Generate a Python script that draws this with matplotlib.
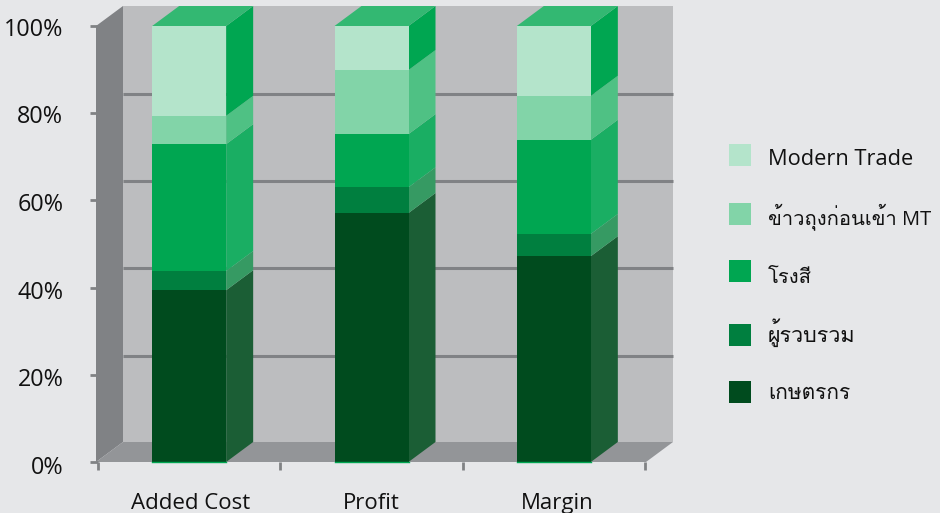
import numpy as np
import matplotlib
matplotlib.use("Agg")
import matplotlib.pyplot as plt
from matplotlib import font_manager as fm
from matplotlib.ft2font import FT2Font
from matplotlib.patches import Rectangle
from matplotlib.transforms import ScaledTranslation

categories = ["Added Cost", "Profit", "Margin"]
series_names = ["เกษตรกร", "ผู้รวบรวม", "โรงสี", "ข้าวถุงก่อนเข้า MT", "Modern Trade"]
farmer = [39.4, 57.1, 47.2]
collector = [4.4, 5.9, 5.1]
mill = [29.1, 12.2, 21.6]
bagged = [6.5, 14.7, 10.1]
modern_trade = [20.6, 10.1, 16.0]
percent_ticks = [0, 20, 40, 60, 80, 100]

front_colors = ["#004b1e", "#007f3f", "#00a651", "#82d4a8", "#b4e4cb"]
side_colors = ["#1b5e35", "#369a63", "#1aae63", "#4fc184", "#00a651"]
top_color = "#33b872"
bg = "#e6e7e9"
grey_dark = "#808285"


# busca una fuente con glifos tailandeses
def thai_fonts():
    found = []
    for f in fm.fontManager.ttflist:
        try:
            if 0x0E01 in FT2Font(f.fname).get_charmap() and f.name not in found:
                found.append(f.name)
        except Exception:
            pass
    return found


plt.rcParams["font.family"] = ["Open Sans"] + thai_fonts() + ["DejaVu Sans"]
text_color = "#111111"

W, H = 940, 513
fig = plt.figure(figsize=(W / 100, H / 100), dpi=100, facecolor=bg)
ax = fig.add_axes([98 / W, (H - 462) / H, (645 - 98) / W, 436 / H])
ax.set_xlim(0, 3)
ax.set_ylim(0, 100)
ax.patch.set_visible(False)
for s in ax.spines.values():
    s.set_visible(False)

# profundidad 3D en unidades de datos
px_x = 3 / (645 - 98)
px_y = 100 / 436
dx = 27 * px_x
dy = 20 * px_y
grid_dy = 19.2 * px_y
wall_l = -2 * px_x
wall_r = 3 + 1 * px_x
bar_w = 74 * px_x

# paredes y piso
ax.fill([wall_l + dx, wall_r + dx, wall_r + dx, wall_l + dx], [dy, dy, 100 + dy, 100 + dy],
        color="#bcbdbf", lw=0, clip_on=False, zorder=1)
ax.fill([wall_l, wall_l + dx, wall_l + dx, wall_l], [0, dy, 100 + dy, 100],
        color=grey_dark, lw=0, clip_on=False, zorder=1)
ax.fill([wall_l, wall_r, wall_r + dx, wall_l + dx], [0, 0, dy, dy],
        color="#939598", lw=0, clip_on=False, zorder=1)

# lineas de la pared
for v in percent_ticks[1:-1]:
    ax.plot([wall_l + dx, wall_r + dx], [v + grid_dy, v + grid_dy], color=grey_dark, lw=2.2,
            solid_capstyle="butt", clip_on=False, zorder=2)

# barras apiladas
values = np.array([farmer, collector, mill, bagged, modern_trade])
bottoms = np.vstack([np.zeros(3), np.cumsum(values, axis=0)[:-1]])
xs = np.arange(3) + 0.5
for i in range(len(values)):
    ax.bar(xs, values[i], bar_w, bottom=bottoms[i], color=front_colors[i], lw=0, zorder=4)
    for x, b, v in zip(xs, bottoms[i], values[i]):
        r = x + bar_w / 2
        ax.fill([r, r + dx, r + dx, r], [b, b + dy, b + v + dy, b + v],
                color=side_colors[i], lw=0, clip_on=False, zorder=3)
for x in xs:
    l, r = x - bar_w / 2, x + bar_w / 2
    ax.fill([l, r, r + dx, l + dx], [100, 100, 100 + dy, 100 + dy],
            color=top_color, lw=0, clip_on=False, zorder=3)
    ax.plot([l, r], [0, 0], color="#00a651", lw=1, clip_on=False, zorder=5)

# ejes
ax.set_yticks(percent_ticks)
ax.set_yticklabels([f"{v}%" for v in percent_ticks], fontsize=16.8, color=text_color)
ax.tick_params(axis="y", length=5.5, width=2, color=grey_dark, pad=19.5)
# etiquetas un poco mas abajo que la marca, como en el original
for lab, off in zip(ax.get_yticklabels(), [3, 2.5, 2, 1.5, 1, 1]):
    lab.set_transform(lab.get_transform() + ScaledTranslation(0, -off / 100, fig.dpi_scale_trans))
ax.set_xticks([0, 1, 2, 3])
ax.set_xticklabels([])
ax.tick_params(axis="x", which="major", length=6, width=2, color=grey_dark)
ax.set_xticks([0.508, 1.497, 2.518], minor=True)
ax.set_xticklabels(categories, minor=True, fontsize=16, color=text_color)
ax.tick_params(axis="x", which="minor", length=0, pad=22.5)

# leyenda a mano, el espaciado del original no es parejo
legend_y = [392, 335, 271, 214, 155]
baseline_y = [399, 342, 283, 224, 165]
legend_sizes = [15, 15.5, 14.5, 14.5, 15.7]
for i in range(len(series_names)):
    fig.patches.append(Rectangle((729 / W, (H - legend_y[i] - 11) / H), 22 / W, 22 / H,
                                 transform=fig.transFigure, color=front_colors[i], lw=0))
    fig.text(768 / W, (H - baseline_y[i]) / H, series_names[i], fontsize=legend_sizes[i],
             color=text_color, ha="left", va="baseline")

fig.savefig("out.png", dpi=100, facecolor=bg)
